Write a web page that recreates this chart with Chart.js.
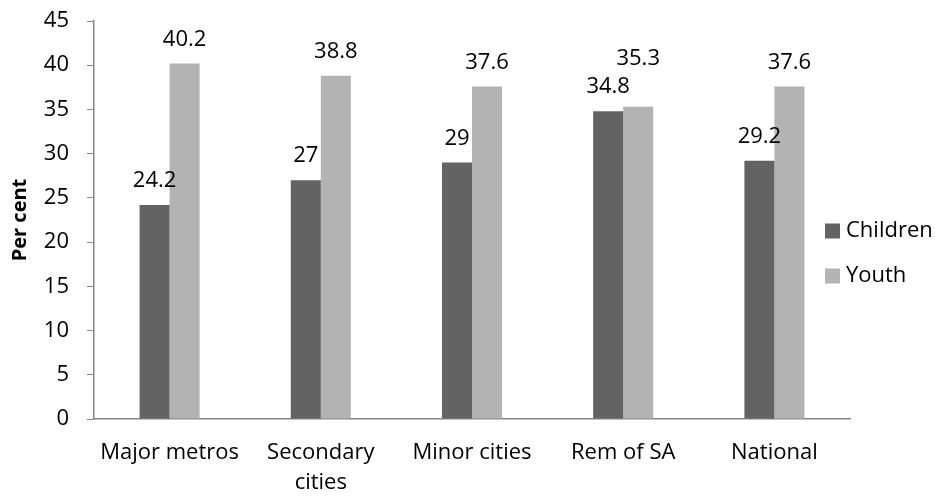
<!DOCTYPE html>
<html>
<head>
<meta charset="utf-8">
<script src="https://cdn.jsdelivr.net/npm/chart.js@4.4.0/dist/chart.umd.min.js"></script>
<style>
  html, body { margin: 0; padding: 0; background: #ffffff; }
  #wrap { width: 935px; height: 496px; position: relative; }
</style>
</head>
<body>
<div id="wrap"><canvas id="myChart"></canvas></div>
<script>
// Chart data
const categories = ['Major metros', ['Secondary', 'cities'], 'Minor cities', 'Rem of SA', 'National'];
const childrenValues = [24.2, 27, 29, 34.8, 29.2];
const youthValues = [40.2, 38.8, 37.6, 35.3, 37.6];
const yTicks = [0, 5, 10, 15, 20, 25, 30, 35, 40, 45];

const FONT = '"Open Sans", sans-serif';
const FONT_SIZE = 22;
Chart.defaults.font.family = FONT;
Chart.defaults.font.size = FONT_SIZE;
Chart.defaults.color = '#000000';

// Draw the value above each bar, pushing a label up if it would collide with its neighbour
const valueLabels = {
    id: 'valueLabels',
    afterDatasetsDraw(chart) {
        const ctx = chart.ctx;
        const gap = 24;
        const lineH = 28;
        ctx.save();
        ctx.font = FONT_SIZE + 'px ' + FONT;
        ctx.fillStyle = '#000000';
        ctx.textAlign = 'center';
        ctx.textBaseline = 'middle';
        chart.data.labels.forEach((_, j) => {
            const placed = [];
            chart.data.datasets.forEach((ds, i) => {
                const bar = chart.getDatasetMeta(i).data[j];
                const text = String(ds.data[j]);
                const w = ctx.measureText(text).width;
                let y = bar.y - gap;
                placed.forEach(p => {
                    const overlapX = Math.abs(p.x - bar.x) < (p.w + w) / 2 + 2;
                    const overlapY = Math.abs(p.y - y) < lineH;
                    if (overlapX && overlapY) y = p.y - lineH;
                });
                ctx.fillText(text, bar.x, y);
                placed.push({ x: bar.x, y: y, w: w });
            });
        });
        ctx.restore();
    }
};

// Simple legend on the right, built from the datasets
const sideLegend = {
    id: 'sideLegend',
    afterDraw(chart) {
        const ctx = chart.ctx;
        const area = chart.chartArea;
        const x = area.right - 25;
        const midY = (area.top + area.bottom) / 2 + 33;
        const step = 45;
        const sets = chart.data.datasets;
        ctx.save();
        ctx.font = FONT_SIZE + 'px ' + FONT;
        ctx.textAlign = 'left';
        ctx.textBaseline = 'middle';
        sets.forEach((ds, i) => {
            const y = midY + (i - (sets.length - 1) / 2) * step;
            ctx.fillStyle = ds.backgroundColor;
            ctx.fillRect(x, y - 7, 15, 15);
            ctx.fillStyle = '#000000';
            ctx.fillText(ds.label, x + 21, y);
        });
        ctx.restore();
    }
};

const ctx = document.getElementById('myChart').getContext('2d');
const myChart = new Chart(ctx, {
    type: 'bar',
    data: {
        labels: categories,
        datasets: [
            { label: 'Children', data: childrenValues, backgroundColor: '#636363' },
            { label: 'Youth', data: youthValues, backgroundColor: '#b3b3b3' }
        ]
    },
    options: {
        responsive: true,
        maintainAspectRatio: false,
        animation: false,
        layout: { padding: { top: 0, right: 85, left: 0, bottom: 0 } },
        datasets: { bar: { categoryPercentage: 0.397, barPercentage: 1 } },
        plugins: {
            legend: { display: false },
            tooltip: { enabled: false }
        },
        scales: {
            x: {
                grid: { display: false },
                border: { display: true, color: '#868686', width: 1.5 },
                ticks: { padding: 11, maxRotation: 0, autoSkip: false, font: { size: FONT_SIZE, lineHeight: 30 / 22 } },
                afterFit(scale) { scale.height = 77; }
            },
            y: {
                min: 0,
                max: 45,
                afterBuildTicks(scale) { scale.ticks = yTicks.map(v => ({ value: v })); },
                grid: { display: true, drawOnChartArea: false, drawTicks: true, tickLength: 7, color: '#868686' },
                border: { display: true, color: '#868686', width: 1.5 },
                ticks: { padding: 18, font: { size: FONT_SIZE } },
                title: { display: true, text: 'Per cent', font: { size: 20, weight: 'bold' }, padding: { top: 8, bottom: 4 } },
                afterFit(scale) { scale.width = 94; scale.paddingTop = 21; }
            }
        }
    },
    plugins: [valueLabels, sideLegend]
});
</script>
</body>
</html>
